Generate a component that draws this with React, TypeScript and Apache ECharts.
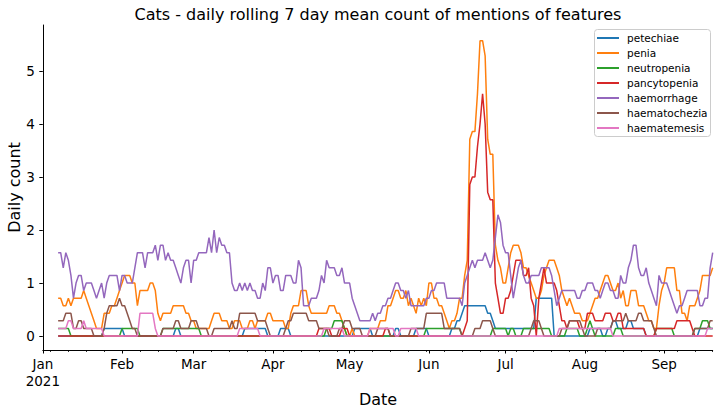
import React, { useEffect, useRef } from "react";
import * as echarts from "echarts";

// Trailing 7-day totals of mentions, one value per day from 2021-01-07 (day 6) to 2021-09-20 (day 262).
// The plotted rolling mean is total / 7.
const petechiae = [
  0,0,0,0,0,0,0,0,0,0, 0,0,0,0,0,0,0,0,1,1, 1,1,1,1,1,1,0,0,0,0, 0,0,0,0,0,0,0,0,0,0,
  0,0,0,0,0,0,1,1,0,0, 0,0,0,0,0,0,0,0,0,0, 0,0,0,0,0,0,0,0,0,0, 0,0,0,1,1,1,1,1,1,1,
  1,1,0,0,0,0,0,1,1,1, 1,0,0,0,0,0,0,0,0,0, 0,0,0,0,0,0,0,0,0,0, 0,0,0,0,0,0,1,1,1,1,
  1,1,1,0,0,0,0,0,0,0, 0,0,1,1,0,0,0,0,0,0, 1,1,1,1,1,0,0,0,0,0, 0,0,0,0,1,1,2,2,3,4,
  4,4,4,4,4,4,4,4,3,3, 2,1,1,1,1,1,1,1,1,1, 1,1,1,1,1,1,1,5,5,5, 5,5,5,5,0,0,0,0,0,0,
  0,0,0,0,0,0,0,0,1,1, 1,1,1,0,0,1,1,2,2,1, 1,1,1,2,2,1,1,1,1,1, 0,0,0,0,0,0,0,0,0,0,
  0,0,0,0,0,0,0,0,0,0, 0,1,1,1,1,1,1,
];
const penia = [
  5,5,4,4,5,4,5,5,5,5, 6,5,4,3,2,1,1,1,3,3, 3,4,4,5,6,7,8,8,8,7, 7,4,6,6,6,6,7,7,6,3,
  2,3,3,3,3,4,4,4,4,4, 3,3,2,2,1,1,1,1,1,1, 2,3,3,3,2,2,2,1,1,2, 2,2,1,1,1,2,2,1,2,2,
  2,2,3,3,2,2,2,2,2,1, 1,3,4,4,4,6,6,6,4,3, 3,3,3,3,3,3,4,4,4,3, 3,2,1,0,0,1,0,0,0,0,
  0,0,1,1,1,1,2,2,2,4, 4,5,6,6,5,5,6,4,5,4, 3,5,4,5,4,7,7,5,5,4, 4,3,2,1,2,2,3,5,5,8,
  10,26,27,27,32,39,39,37,26,24, 24,12,10,9,7,7,9,11,12,12, 12,11,9,9,8,7,6,5,5,6, 8,9,10,10,10,9,8,6,5,4,
  5,4,3,3,3,2,2,2,3,4, 5,5,6,7,8,8,7,6,6,7, 5,6,4,4,6,6,6,4,4,4, 3,2,2,1,1,4,6,7,9,9,
  9,9,6,6,3,3,2,4,4,4, 5,6,8,8,8,8,9,
];
const neutropenia = [
  1,1,1,1,1,0,0,0,0,0, 0,0,0,0,0,0,0,0,0,0, 0,0,0,0,0,1,1,1,1,1, 1,1,0,0,0,0,0,0,0,0,
  0,1,1,1,1,1,1,1,1,1, 1,1,1,1,1,1,0,0,0,0, 0,0,0,0,0,0,0,0,0,0, 0,0,0,0,0,0,0,0,0,0,
  0,0,0,0,0,0,0,0,0,0, 0,0,0,0,0,0,0,0,0,0, 0,0,0,0,0,1,1,1,2,2, 2,2,1,0,0,0,0,0,0,0,
  0,0,0,0,0,0,0,0,0,0, 0,0,0,0,0,0,0,0,0,0, 0,0,0,0,1,1,1,1,1,1, 1,1,1,1,1,1,1,1,0,0,
  0,0,0,0,0,0,0,0,0,0, 1,1,1,1,1,1,0,1,1,0, 0,0,1,1,1,1,1,1,1,1, 1,1,1,0,0,0,0,0,0,1,
  1,1,1,1,0,0,0,1,2,1, 0,0,0,0,0,0,0,0,1,1, 1,0,0,0,0,0,0,0,0,0, 0,0,0,0,1,1,1,1,1,1,
  1,0,0,0,0,0,0,0,0,1, 1,1,2,2,2,1,1,
];
const pancytopenia = [
  0,0,0,0,0,0,0,0,0,0, 0,0,0,0,0,0,0,0,0,0, 0,0,0,0,0,0,0,0,0,0, 0,0,0,0,0,0,0,0,0,0,
  0,0,0,0,0,0,0,0,0,0, 0,0,0,0,0,0,0,0,0,0, 0,0,0,0,0,0,0,0,0,0, 0,0,0,0,0,0,0,0,0,0,
  0,0,0,0,0,0,0,0,0,0, 0,0,0,0,0,0,0,0,0,0, 0,0,1,1,1,1,1,0,0,0, 0,1,1,1,0,0,0,0,0,0,
  0,0,0,0,0,0,0,0,1,1, 0,0,0,0,0,0,0,0,0,0, 0,0,0,0,0,0,0,0,0,0, 0,0,0,0,0,0,0,0,0,1,
  2,20,21,21,25,28,32,28,19,18, 18,7,5,3,3,5,5,6,8,10, 10,10,8,8,9,5,4,0,5,7, 9,7,7,7,7,6,4,2,2,1,
  2,2,2,2,1,1,1,3,3,3, 2,2,2,2,3,3,3,2,2,3, 3,1,1,1,1,1,1,1,1,1, 0,0,0,0,1,1,1,1,1,1,
  1,1,2,2,2,2,2,2,1,0, 0,0,0,0,0,0,0,
];
const haemorrhage = [
  11,11,9,11,10,8,5,7,8,8, 6,7,7,7,6,5,6,7,5,7, 8,8,8,8,6,8,8,7,7,7, 9,11,11,11,9,11,11,11,12,10,
  12,12,10,11,10,10,9,8,7,9, 10,10,7,10,10,11,11,11,11,13, 11,14,11,13,12,12,11,11,7,6, 6,7,6,7,6,7,6,6,5,5,
  7,6,9,9,7,8,8,6,6,8, 8,8,7,7,10,9,4,4,4,5, 5,5,6,8,7,10,9,9,9,8, 8,9,7,7,7,5,4,3,2,2,
  2,2,2,3,2,3,3,4,4,5, 5,6,7,7,6,6,5,6,4,4, 4,4,4,4,5,5,6,6,7,7, 7,7,5,5,5,5,5,5,4,7,
  8,9,10,9,10,10,10,11,10,9, 10,13,16,15,12,11,11,8,5,7, 9,10,8,7,7,8,8,8,8,9, 9,9,9,8,6,4,5,6,6,6,
  6,6,6,5,5,6,6,7,7,7, 6,6,5,6,7,7,6,6,5,5, 8,7,7,9,10,12,12,9,8,8, 9,7,6,5,4,8,7,7,7,6,
  5,4,3,4,4,5,6,6,6,6, 6,4,4,5,5,9,11,
];
const haematochezia = [
  2,2,2,3,3,3,1,1,2,2, 1,1,1,1,0,0,0,0,1,3, 4,4,4,4,5,4,4,3,2,1, 1,0,0,0,0,0,0,0,0,0,
  0,1,1,1,1,1,2,2,1,1, 1,1,2,2,2,1,1,1,1,0, 0,1,1,1,1,1,1,1,2,1, 1,3,3,3,3,3,3,3,2,2,
  2,2,1,0,0,0,0,0,0,1, 2,2,3,3,3,3,3,3,2,2, 2,2,1,1,1,1,0,0,0,0, 1,1,2,2,2,1,1,1,1,0,
  0,0,0,0,0,1,1,1,1,1, 0,0,0,0,0,0,0,0,1,1, 1,1,1,1,3,3,3,3,3,3, 3,1,1,1,1,1,1,1,0,0,
  0,0,0,1,1,1,2,2,2,2, 1,0,0,0,0,0,0,0,0,0, 0,0,0,0,0,1,2,2,2,1, 0,0,0,0,0,0,0,1,1,1,
  2,2,2,2,2,1,0,0,0,0, 0,1,1,1,1,1,1,2,2,2, 2,2,3,2,2,2,2,3,3,2, 2,2,2,1,0,0,0,0,0,0,
  0,0,0,0,0,0,0,0,0,1, 1,1,1,1,1,2,2,
];
const haematemesis = [
  1,1,1,1,2,2,1,1,1,1, 2,1,1,1,1,1,1,1,0,0, 0,0,0,0,0,0,0,0,0,0, 0,0,3,3,3,3,3,3,1,0,
  0,0,0,0,0,0,0,0,0,0, 0,0,0,0,0,0,0,0,0,0, 0,0,0,0,0,0,0,0,0,0, 0,1,1,1,1,1,1,1,1,0,
  0,0,0,0,0,0,0,0,0,0, 0,0,0,0,0,0,0,0,0,0, 0,0,0,0,1,1,1,1,1,1, 1,1,0,0,0,0,0,0,0,0,
  0,0,1,1,1,1,1,1,1,1, 1,1,0,0,1,1,1,1,1,1, 1,0,0,0,0,0,0,0,0,0, 0,0,0,0,0,0,0,0,0,0,
  0,0,0,0,0,0,0,0,0,0, 0,0,0,0,0,0,0,0,0,0, 0,0,0,0,0,0,0,0,0,0, 0,0,0,0,0,0,1,1,1,1,
  1,1,1,1,1,1,1,1,1,1, 1,1,1,1,1,1,1,0,0,0, 0,0,0,0,0,0,0,0,0,0, 0,0,0,0,0,0,0,0,0,0,
  0,0,0,0,0,0,0,0,0,0, 0,0,0,0,1,1,1,
];

const SERIES_NAMES = ["petechiae", "penia", "neutropenia", "pancytopenia", "haemorrhage", "haematochezia", "haematemesis"];
const SERIES_TOTALS = [petechiae, penia, neutropenia, pancytopenia, haemorrhage, haematochezia, haematemesis];
const COLORS = ["#1f77b4", "#ff7f0e", "#2ca02c", "#d62728", "#9467bd", "#8c564b", "#e377c2"];
// x is days since 2021-01-01
const FIRST_DAY = 6;
const LAST_DAY = 262;
const MONTH_TICK_DAYS = [0, 31, 59, 90, 120, 151, 181, 212, 243];
const MONTH_LABELS = ["Jan\n2021", "Feb", "Mar", "Apr", "May", "Jun", "Jul", "Aug", "Sep"];
const FIRST_MONDAY = 3;
const Y_TICKS = [0, 1, 2, 3, 4, 5];

const FONT = "DejaVu Sans";

export default function App() {
  const ref = useRef<HTMLDivElement>(null);
  useEffect(() => {
    if (!ref.current) return;
    const chart = echarts.init(ref.current, null, { renderer: "svg" });
    const mondays: number[] = [];
    for (let d = FIRST_MONDAY; d <= LAST_DAY; d += 7) mondays.push(d);
    const series = SERIES_NAMES.map((name, k) => ({
      name,
      type: "line",
      xAxisIndex: 0,
      showSymbol: false,
      symbol: "none",
      lineStyle: { width: 1.5, color: COLORS[k] },
      itemStyle: { color: COLORS[k] },
      data: SERIES_TOTALS[k].map((t, i) => [FIRST_DAY + i, t / 7]),
    }));
    chart.setOption({
      animation: false,
      backgroundColor: "#ffffff",
      textStyle: { fontFamily: FONT },
      grid: { left: 42.8, right: 5.3, top: 25, bottom: 64 },
      xAxis: [
        {
          type: "value",
          min: 0,
          max: LAST_DAY,
          splitLine: { show: false },
          axisLine: { show: true, onZero: false, lineStyle: { color: "#000", width: 1 } },
          axisTick: { show: true, length: 3.5, lineStyle: { color: "#000", width: 1 }, customValues: MONTH_TICK_DAYS },
          axisLabel: {
            customValues: MONTH_TICK_DAYS,
            formatter: (v: number) => MONTH_LABELS[MONTH_TICK_DAYS.indexOf(Math.round(v))] ?? "",
            color: "#000",
            fontSize: 13.5,
            lineHeight: 16.5,
            margin: 6,
            fontFamily: FONT,
            align: "center",
          },
        },
        {
          type: "value",
          min: 0,
          max: LAST_DAY,
          position: "bottom",
          splitLine: { show: false },
          axisLine: { show: false, onZero: false },
          axisTick: { show: true, length: 2, lineStyle: { color: "#000", width: 0.8 }, customValues: mondays },
          axisLabel: { show: false },
        },
      ],
      yAxis: {
        type: "value",
        min: -0.264,
        max: 5.868,
        splitLine: { show: false },
        axisLine: { show: true, lineStyle: { color: "#000", width: 1 } },
        axisTick: { show: true, length: 3.5, lineStyle: { color: "#000", width: 1 }, customValues: Y_TICKS },
        axisLabel: { customValues: Y_TICKS, color: "#000", fontSize: 13.5, margin: 8, fontFamily: FONT },
      },
      legend: {
        orient: "vertical",
        left: 594.5,
        top: 29.5,
        padding: [1, 3, 1, 2.5],
        itemWidth: 22,
        itemHeight: 2,
        itemGap: 0,
        icon: "rect",
        borderColor: "#cccccc",
        borderWidth: 1,
        borderRadius: 3,
        backgroundColor: "rgba(255,255,255,0.8)",
        textStyle: { fontSize: 10.5, lineHeight: 15, color: "#000", fontFamily: FONT, padding: [0, 0, 0, 3] },
        data: SERIES_NAMES,
      },
      graphic: [
        {
          type: "text",
          x: 378,
          y: 14,
          style: { text: "Cats - daily rolling 7 day mean count of mentions of features", font: `16px '${FONT}'`, fill: "#000", textAlign: "center", textVerticalAlign: "middle" },
        },
        {
          type: "text",
          x: 378,
          y: 399,
          style: { text: "Date", font: `16px '${FONT}'`, fill: "#000", textAlign: "center", textVerticalAlign: "middle" },
        },
        {
          type: "text",
          x: 14,
          y: 187.5,
          rotation: Math.PI / 2,
          style: { text: "Daily count", font: `16px '${FONT}'`, fill: "#000", textAlign: "center", textVerticalAlign: "middle" },
        },
      ],
      series,
    });
    return () => chart.dispose();
  }, []);
  return <div ref={ref} style={{ position: "fixed", left: 0, top: 0, width: 718, height: 414, background: "#fff" }} />;
}
